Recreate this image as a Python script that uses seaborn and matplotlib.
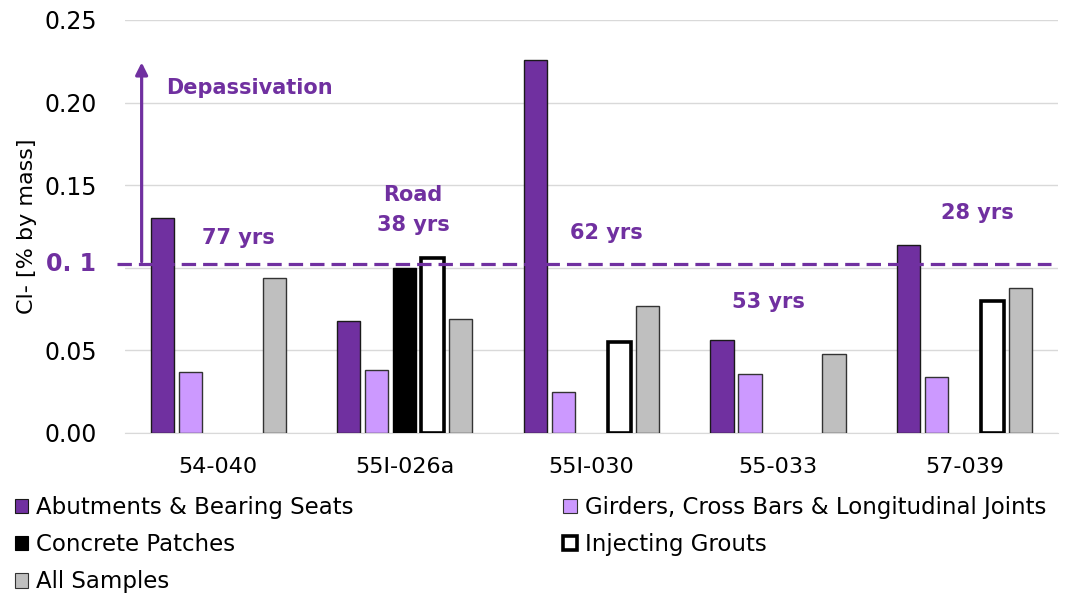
import matplotlib
matplotlib.use("Agg")
import matplotlib.pyplot as plt
import seaborn as sns
import pandas as pd
import numpy as np
from matplotlib.patches import Patch

# dados (Cl- em % da massa)
sites = ["54-040", "55I-026a", "55I-030", "55-033", "57-039"]
components = ["Abutments & Bearing Seats", "Girders, Cross Bars & Longitudinal Joints",
              "Concrete Patches", "Injecting Grouts", "All Samples"]
abutments = [0.130, 0.068, 0.226, 0.056, 0.114]
girders = [0.037, 0.038, 0.025, 0.036, 0.034]
patches = [np.nan, 0.100, np.nan, np.nan, np.nan]
grouts = [np.nan, 0.106, 0.055, np.nan, 0.080]
all_samples = [0.094, 0.069, 0.077, 0.048, 0.088]
ages = ["77 yrs", "Road\n38 yrs", "62 yrs", "53 yrs", "28 yrs"]
threshold = 0.102  # linha tracejada (limite 0.1) como desenhada

purple = "#7030A0"
colors = {components[0]: purple, components[1]: "#CC99FF", components[2]: "#000000",
          components[3]: "#FFFFFF", components[4]: "#BFBFBF"}
edges = {components[0]: ("#1a1a1a", 1.0), components[1]: ("#333333", 1.0),
         components[2]: ("#000000", 1.0), components[3]: ("#000000", 2.6),
         components[4]: ("#333333", 1.0)}

series = [abutments, girders, patches, grouts, all_samples]
df = pd.DataFrame({
    "site": np.tile(sites, len(components)),
    "component": np.repeat(components, len(sites)),
    "cl": np.concatenate(series),
}).dropna()

sns.set_style("white")
plt.rcParams["font.family"] = ["DejaVu Sans"]
plt.rcParams["text.color"] = "black"
plt.rcParams["axes.labelcolor"] = "black"
plt.rcParams["xtick.color"] = "black"
plt.rcParams["ytick.color"] = "black"

fig = plt.figure(figsize=(10.67, 5.96), dpi=100)
ax = fig.add_axes([0.117, 0.2735, 0.8746, 0.693])

sns.barplot(data=df, x="site", y="cl", hue="component", order=sites,
            hue_order=components, palette=colors, saturation=1,
            width=0.75, gap=0.17, legend=False, ax=ax, zorder=3)

for cont, comp in zip(ax.containers, components):
    ec, lw = edges[comp]
    for bar in cont:
        bar.set_edgecolor(ec)
        bar.set_linewidth(lw)

ax.set_xlim(-0.5, 4.5)
ax.set_ylim(0, 0.25)
ax.set_yticks([0, 0.05, 0.10, 0.15, 0.20, 0.25])
ax.set_yticklabels(["0.00", "0.05", "", "0.15", "0.20", "0.25"], fontsize=17)
ax.tick_params(axis="y", length=0, pad=20)
ax.tick_params(axis="x", length=0, labelsize=16, pad=17)
ax.set_xticks(np.arange(-0.5, 5, 1), minor=True)
ax.tick_params(axis="x", which="minor", length=8, color="#D9D9D9", width=1)
ax.yaxis.grid(True, color="#D9D9D9", lw=1)
ax.set_axisbelow(True)
for s in ["top", "right", "left"]:
    ax.spines[s].set_visible(False)
ax.spines["bottom"].set_color("#D9D9D9")
ax.set_xlabel("")
ax.set_ylabel("Cl- [% by mass]", fontsize=16, labelpad=5)

# rótulo roxo do limite
ax.text(-0.0305, threshold, "0. 1", transform=ax.get_yaxis_transform(),
        ha="right", va="center", fontsize=17, fontweight="bold", color=purple)

# linha de despassivação
ax.plot([-0.54, 4.46], [threshold, threshold], color=purple, lw=2.3,
        ls=(0, (4.5, 2.2)), clip_on=False, zorder=4)
ax.annotate("", xy=(-0.41, 0.226), xytext=(-0.41, threshold),
            arrowprops=dict(arrowstyle="-|>", color=purple, lw=2.3, mutation_scale=18),
            zorder=5)
ax.text(-0.28, 0.209, "Depassivation", color=purple, fontsize=15,
        fontweight="bold", va="center", ha="left")

txt_pos = [(0.11, 0.118), (0.045, 0.135), (0.08, 0.121), (-0.05, 0.079), (0.07, 0.133)]
for i, (dx, y) in enumerate(txt_pos):
    ax.text(i + dx, y, ages[i], color=purple, fontsize=15, fontweight="bold",
            ha="center", va="center", linespacing=1.6)

handles = []
for comp in components:
    ec, lw = edges[comp]
    handles.append(Patch(facecolor=colors[comp], edgecolor=ec, linewidth=lw if lw > 1 else 0.8,
                         label=comp))

kw = dict(frameon=False, fontsize=16.5, handlelength=0.6, handleheight=0.6,
          handletextpad=0.35, labelspacing=0.62, borderpad=0, loc="upper left")
fig.legend(handles=[handles[0], handles[2], handles[4]], bbox_to_anchor=(0.003, 0.187), **kw)
fig.legend(handles=[handles[1], handles[3]], bbox_to_anchor=(0.517, 0.187), **kw)

fig.savefig("out.png", dpi=100)
